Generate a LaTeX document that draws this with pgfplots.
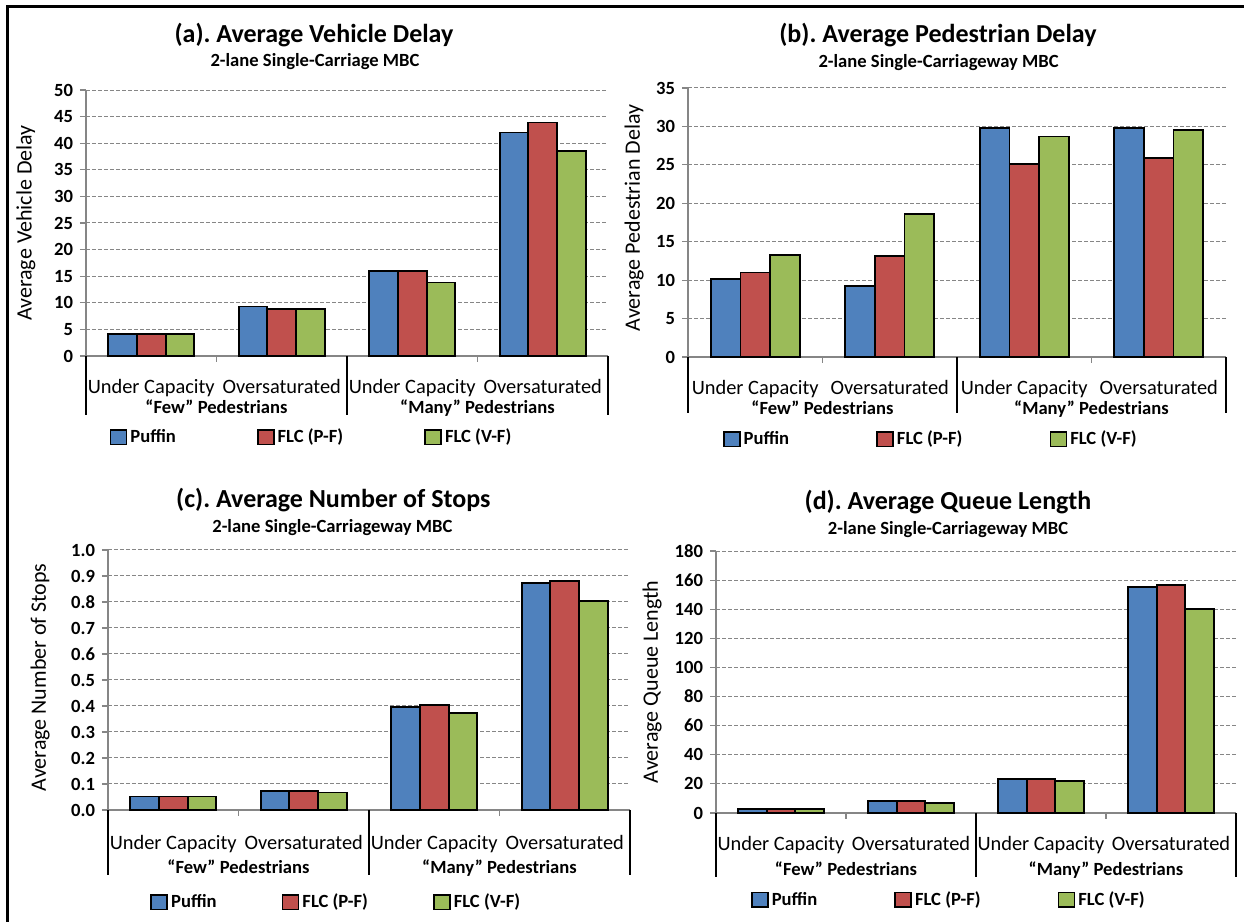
\documentclass[border=0pt]{standalone}
\usepackage{fontspec}
\setmainfont{Carlito}
\usepackage{pgfplots}
\usepackage{pgfplotstable}
\pgfplotsset{compat=1.18}

\definecolor{cblue}{HTML}{4F81BD}
\definecolor{cred}{HTML}{C0504D}
\definecolor{cgreen}{HTML}{9BBB59}
\definecolor{axgray}{HTML}{868686}

% x: 0 = Under Capacity / Few, 1 = Oversaturated / Few, 2 = Under Capacity / Many, 3 = Oversaturated / Many
\pgfplotstableread{
x puffin pf vf
0 4.1 4.1 4.1
1 9.3 8.9 8.9
2 16.0 16.0 13.8
3 42.0 43.9 38.6
}\tabA
\pgfplotstableread{
x puffin pf vf
0 10.2 11.0 13.3
1 9.2 13.1 18.6
2 29.8 25.1 28.7
3 29.8 25.9 29.5
}\tabB
\pgfplotstableread{
x puffin pf vf
0 0.052 0.052 0.052
1 0.073 0.073 0.067
2 0.397 0.404 0.374
3 0.874 0.882 0.805
}\tabC
\pgfplotstableread{
x puffin pf vf
0 2.5 2.5 2.5
1 8.2 8.2 7.1
2 23.1 23.1 22.0
3 155.3 156.6 140.1
}\tabD

\pgfplotsset{
  mbc/.style={
    scale only axis,
    ybar=0pt, bar width=0.22,
    xmin=-0.5, xmax=3.5, ymin=0,
    enlargelimits=false,
    axis x line*=bottom, axis y line*=left,
    axis line style={axgray, line width=0.6pt},
    xtick={0,1,2,3},
    xticklabels={Under Capacity, Oversaturated, Under Capacity, Oversaturated},
    x tick style={draw=none},
    y tick style={axgray, line width=0.6pt},
    tick align=outside, major tick length=3pt,
    ymajorgrids,
    grid style={axgray, dash pattern=on 2pt off 1pt, line width=0.5pt},
    xticklabel style={font=\fontsize{10.2}{12}\selectfont, anchor=base},
    yticklabel style={font=\bfseries\fontsize{9.3}{10}\selectfont},
    /pgf/number format/assume math mode=true,
    ylabel style={font=\fontsize{11}{13}\selectfont, anchor=center},
    every axis plot post/.append style={draw=black, line width=0.9pt,
      legend image code/.code={\draw[##1] (0pt,-3.7pt) rectangle (8pt,3.7pt);}},
    legend columns=3,
    legend style={draw=none, fill=none, anchor=west,
      font=\bfseries\fontsize{9.3}{10}\selectfont,
      nodes={inner xsep=1.5pt}},
    clip=false,
  },
}

\newcommand\decor[2]{%
  \draw[black, line width=0.8pt] (axis cs:-0.5,0) -- ++(0pt,-#1);
  \draw[black, line width=0.8pt] (axis cs:1.5,0) -- ++(0pt,-#1);
  \draw[black, line width=0.8pt] (axis cs:3.5,0) -- ++(0pt,-#1);
  \draw[axgray, line width=0.6pt] (axis cs:0.5,0) -- ++(0pt,-3pt);
  \draw[axgray, line width=0.6pt] (axis cs:2.5,0) -- ++(0pt,-3pt);
  \node[anchor=base, font=\bfseries\fontsize{9.3}{10}\selectfont]
    at ([yshift=-#2]axis cs:0.5,0) {“Few” Pedestrians};
  \node[anchor=base, font=\bfseries\fontsize{9.3}{10}\selectfont]
    at ([yshift=-#2]axis cs:2.5,0) {“Many” Pedestrians};
}

\tikzset{
  ttl/.style={font=\bfseries\fontsize{13}{15}\selectfont},
  sub/.style={font=\bfseries\fontsize{9.3}{10}\selectfont},
}

\begin{document}
\frenchspacing
\begin{tikzpicture}
\useasboundingbox (0pt,0pt) rectangle (622pt,461pt);
\draw[black, line width=1.5pt] (3.5pt,0pt) -- (3.5pt,457.5pt) -- (622pt,457.5pt);

% (a)
\node[ttl] at (157pt,443.5pt) {(a). Average Vehicle Delay};
\node[sub] at (157.5pt,430pt) {2-lane Single-Carriage MBC};
\begin{axis}[mbc,
    at={(43pt,283pt)}, anchor=south west,
    width=261pt, height=133pt,
    ymax=50, ytick={0,5,...,50},
    xticklabel style={yshift=-15.8pt},
    ylabel={Average Vehicle Delay},
    ylabel style={at={(axis description cs:-0.115,0.5)}},
    legend style={at={(0.033,-0.305)},
      /tikz/every even column/.append style={column sep=39pt}},
  ]
  \addplot[fill=cblue] table[x=x, y=puffin] {\tabA};
  \addplot[fill=cred] table[x=x, y=pf] {\tabA};
  \addplot[fill=cgreen] table[x=x, y=vf] {\tabA};
  \legend{Puffin, FLC (P-F), FLC (V-F)}
  \decor{29.5pt}{29pt}
\end{axis}

% (b)
\node[ttl] at (469pt,443.5pt) {(b). Average Pedestrian Delay};
\node[sub] at (469.3pt,429.5pt) {2-lane Single-Carriageway MBC};
\begin{axis}[mbc,
    at={(344pt,282.5pt)}, anchor=south west,
    width=269pt, height=134.5pt,
    ymax=35, ytick={0,5,...,35},
    xticklabel style={yshift=-15.8pt},
    ylabel={Average Pedestrian Delay},
    ylabel style={at={(axis description cs:-0.100,0.517)}},
    legend style={at={(0.053,-0.305)},
      /tikz/every even column/.append style={column sep=42pt}},
  ]
  \addplot[fill=cblue] table[x=x, y=puffin] {\tabB};
  \addplot[fill=cred] table[x=x, y=pf] {\tabB};
  \addplot[fill=cgreen] table[x=x, y=vf] {\tabB};
  \legend{Puffin, FLC (P-F), FLC (V-F)}
  \decor{28pt}{29pt}
\end{axis}

% (c)
\node[ttl] at (166.7pt,211pt) {(c). Average Number of Stops};
\node[sub] at (166.2pt,197pt) {2-lane Single-Carriageway MBC};
\begin{axis}[mbc,
    at={(54pt,56pt)}, anchor=south west,
    width=261pt, height=130pt,
    ymax=1, ytick={0,0.1,...,1.01},
    yticklabel style={/pgf/number format/.cd, fixed, fixed zerofill, precision=1},
    xticklabel style={yshift=-16.5pt},
    ylabel={Average Number of Stops},
    ylabel style={at={(axis description cs:-0.130,0.51)}},
    legend style={at={(0.069,-0.354)},
      /tikz/every even column/.append style={column sep=31pt}},
  ]
  \addplot[fill=cblue] table[x=x, y=puffin] {\tabC};
  \addplot[fill=cred] table[x=x, y=pf] {\tabC};
  \addplot[fill=cgreen] table[x=x, y=vf] {\tabC};
  \legend{Puffin, FLC (P-F), FLC (V-F)}
  \decor{32.5pt}{31.5pt}
\end{axis}

% (d)
\node[ttl] at (474pt,210pt) {(d). Average Queue Length};
\node[sub] at (474pt,196pt) {2-lane Single-Carriageway MBC};
\begin{axis}[mbc,
    at={(358pt,54.5pt)}, anchor=south west,
    width=260pt, height=131pt,
    ymax=180, ytick={0,20,...,180},
    xticklabel style={yshift=-15.8pt},
    ylabel={Average Queue Length},
    ylabel style={at={(axis description cs:-0.123,0.5)}},
    legend style={at={(0.055,-0.332)},
      /tikz/every even column/.append style={column sep=37pt}},
  ]
  \addplot[fill=cblue] table[x=x, y=puffin] {\tabD};
  \addplot[fill=cred] table[x=x, y=pf] {\tabD};
  \addplot[fill=cgreen] table[x=x, y=vf] {\tabD};
  \legend{Puffin, FLC (P-F), FLC (V-F)}
  \decor{32pt}{31.5pt}
\end{axis}
\end{tikzpicture}
\end{document}
